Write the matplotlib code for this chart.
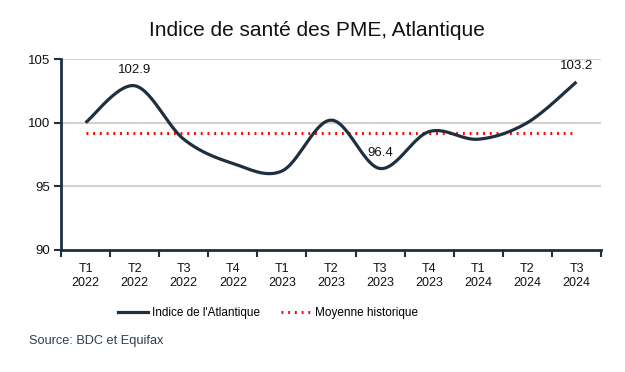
import numpy as np
import matplotlib.pyplot as plt
from matplotlib.lines import Line2D

plt.rcParams['font.family'] = ['Liberation Sans', 'DejaVu Sans']

# data
quarters = ["T1\n2022", "T2\n2022", "T3\n2022", "T4\n2022", "T1\n2023", "T2\n2023",
            "T3\n2023", "T4\n2023", "T1\n2024", "T2\n2024", "T3\n2024"]
indice = [100.0, 102.9, 98.7, 96.8, 96.2, 100.2, 96.4, 99.3, 98.7, 100.0, 103.2]
moyenne = 99.2
labelled = {1: "102.9", 6: "96.4", 10: "103.2"}

navy = "#1E2F3F"
grid_col = "#D9D0C7"


def smooth(x, y, n=30):
    # catmull-rom style smoothing like excel smoothed lines
    x = np.asarray(x, float)
    y = np.asarray(y, float)
    px = np.concatenate([[x[0]], x, [x[-1]]])
    py = np.concatenate([[y[0]], y, [y[-1]]])
    xs, ys = [], []
    t = np.linspace(0, 1, n)
    for i in range(1, len(px) - 2):
        p0, p1, p2, p3 = [np.array([px[j], py[j]]) for j in (i - 1, i, i + 1, i + 2)]
        c1 = p1 + (p2 - p0) / 6
        c2 = p2 - (p3 - p1) / 6
        pts = ((1 - t) ** 3)[:, None] * p1 + (3 * (1 - t) ** 2 * t)[:, None] * c1 \
            + (3 * (1 - t) * t ** 2)[:, None] * c2 + (t ** 3)[:, None] * p2
        xs.extend(pts[:, 0])
        ys.extend(pts[:, 1])
    return np.array(xs), np.array(ys)


fig = plt.figure(figsize=(6.25, 3.72), dpi=100)
ax = fig.add_axes([61 / 625, 1 - 250 / 372, 540 / 625, 191 / 372])

xpos = np.arange(len(quarters))
sx, sy = smooth(xpos, indice)
ax.plot(sx, sy, color=navy, lw=2.3, solid_capstyle='butt', zorder=3)
ax.plot([xpos[0], xpos[-1]], [moyenne, moyenne], color="#FF0000", lw=2.2,
        linestyle=(0, (0.6, 1.6)), zorder=2)

for i, txt in labelled.items():
    ax.annotate(txt, (xpos[i], indice[i]), xytext=(0, 7), textcoords='offset points',
                ha='center', va='bottom', fontsize=9.5, color='#111111')

ax.set_xlim(-0.5, len(quarters) - 0.5)
ax.set_ylim(90, 105)
ax.set_yticks([90, 95, 100, 105])
ax.set_xticks(xpos)
ax.set_xticklabels(quarters, fontsize=9, color='#111111', linespacing=1.3)
ax.set_xticks(np.arange(-0.5, len(quarters)), minor=True)
ax.tick_params(axis='x', which='major', length=0, pad=9)
ax.tick_params(axis='x', which='minor', length=5, width=1.5, color=navy)
ax.tick_params(axis='y', length=5, width=1.5, color=navy, labelsize=9.5, labelcolor='#111111', pad=3)
for y in [95, 100, 105]:
    ax.axhline(y, color=grid_col, lw=1.5, zorder=1)
for s in ['top', 'right']:
    ax.spines[s].set_visible(False)
for s in ['left', 'bottom']:
    ax.spines[s].set_color(navy)
    ax.spines[s].set_linewidth(2)

fig.text(317 / 625, 1 - 31 / 372, "Indice de santé des PME, Atlantique", ha='center', va='center',
         fontsize=15, color='#111111')

handles = [Line2D([], [], color=navy, lw=2.3),
           Line2D([], [], color="#FF0000", lw=2.2, linestyle=(0, (0.6, 1.6)))]
fig.legend(handles, ["Indice de l'Atlantique", "Moyenne historique"], loc='center',
           bbox_to_anchor=(268 / 625, 1 - 313 / 372), ncol=2, frameon=False, fontsize=8.5,
           handlelength=2.6, handletextpad=0.3, columnspacing=1.8)

fig.text(29 / 625, 1 - 341 / 372, "Source: BDC et Equifax", ha='left', va='center',
         fontsize=9.2, color='#2C3E50')

fig.savefig("out.png", dpi=100)
